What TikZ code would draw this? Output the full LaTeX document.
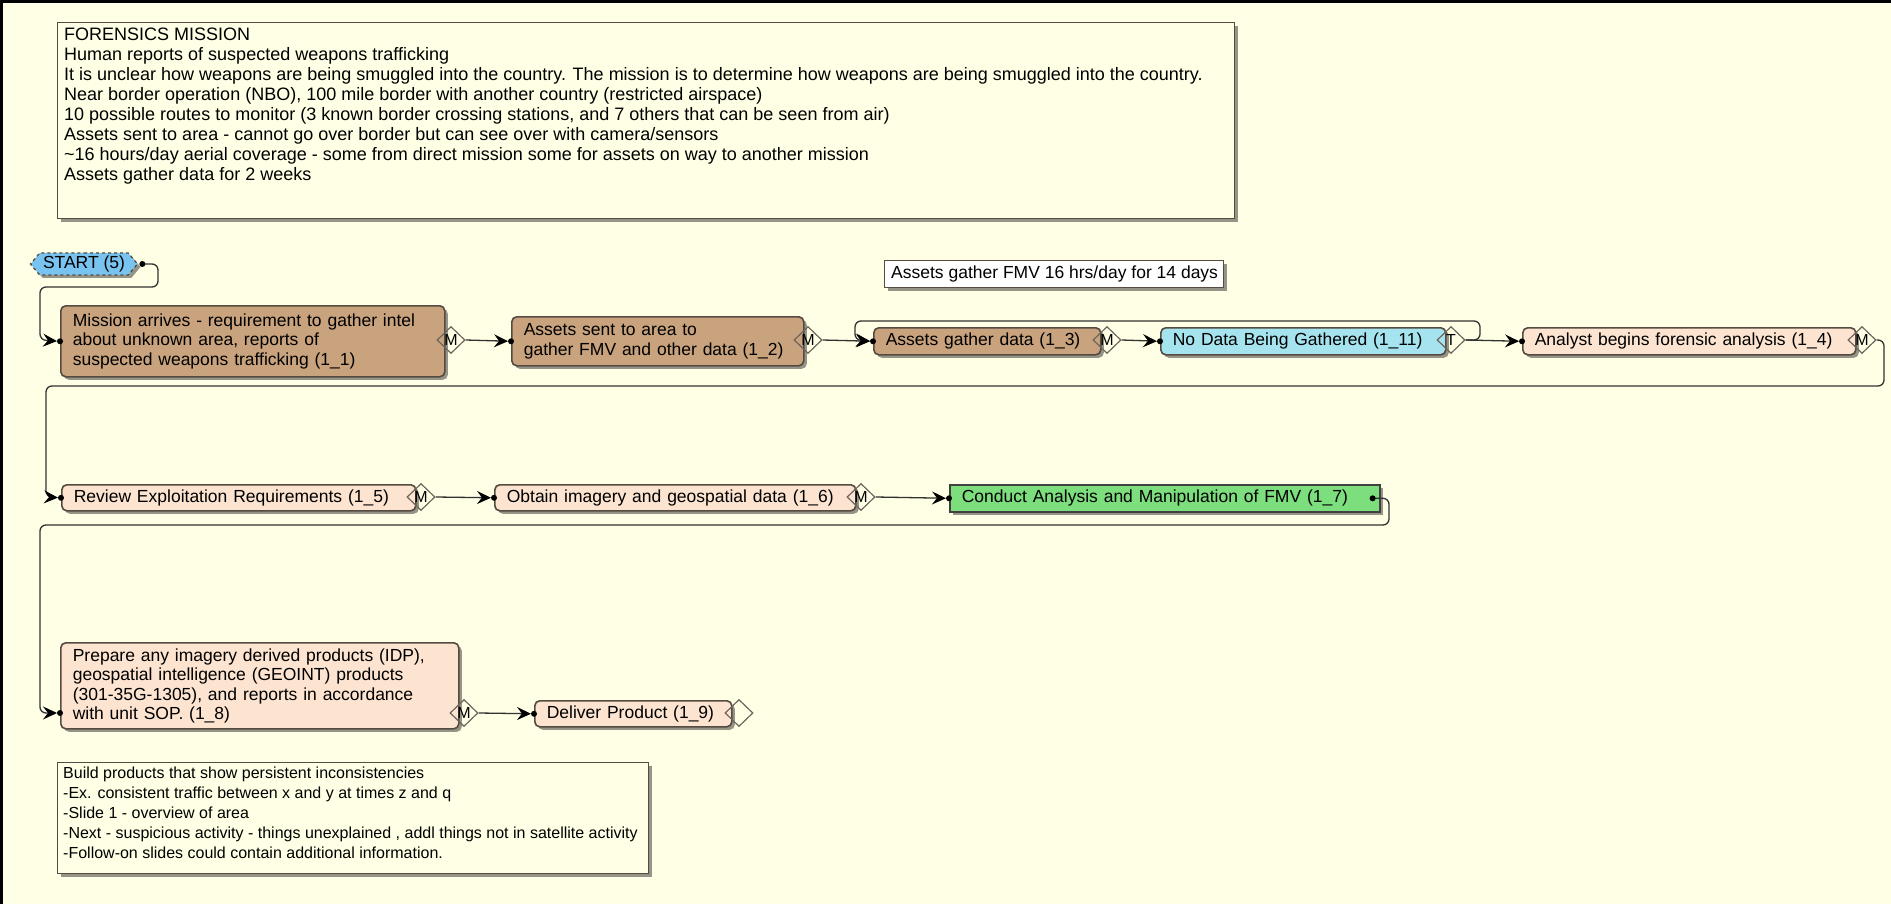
\documentclass[tikz,border=0pt]{standalone}
\usepackage{fontspec}
\setmainfont{Liberation Sans}
\usetikzlibrary{shapes.geometric,shapes.symbols,shadows,arrows.meta,calc}
\definecolor{bg}{RGB}{255,255,230}
\definecolor{tanbox}{RGB}{200,163,125}
\definecolor{peach}{RGB}{252,228,208}
\definecolor{cyanbox}{RGB}{165,228,238}
\definecolor{greenbox}{RGB}{125,222,125}
\definecolor{startblue}{RGB}{120,195,240}
\definecolor{edge}{RGB}{85,75,65}
\definecolor{shadowc}{RGB}{150,148,135}
\definecolor{linec}{RGB}{50,50,50}
\begin{document}
\begin{tikzpicture}[x=1pt,y=-1pt,
  nodefont/.style={font=\fontsize{17.5}{19.5}\selectfont},
  notefont/.style={font=\fontsize{16}{20}\selectfont},
  topnotefont/.style={font=\fontsize{18}{20}\selectfont},
  shad/.style={drop shadow={shadow xshift=3pt,shadow yshift=-3pt,fill=shadowc,opacity=1}},
  task/.style={draw=edge,line width=1.6pt,rounded corners=5pt,anchor=north west,
    inner xsep=12pt,inner ysep=0pt,align=left,nodefont,shad},
  tanT/.style={task,fill=tanbox},
  peachT/.style={task,fill=peach},
  cyanT/.style={task,fill=cyanbox},
  greenT/.style={task,fill=greenbox,rounded corners=0pt,draw=black!75},
  dia/.style={diamond,draw=edge!85,line width=1.2pt,minimum width=28pt,minimum height=27pt,
    inner sep=0pt,font=\fontsize{16}{16}\selectfont},
  notebox/.style={draw=edge,line width=1.4pt,anchor=north west,inner sep=0pt,shad},
  notetext/.style={anchor=north west,align=left,inner sep=0pt,notefont},
  conn/.style={draw=linec,line width=1.3pt,rounded corners=6pt},
  arr/.style={conn,-{Stealth[length=14pt,width=13pt,inset=5pt,color=black]},shorten >=3pt},
  enddot/.style={fill=black}
]
\useasboundingbox (0,0) rectangle (1891,904);
\fill[bg] (0,0) rectangle (1891,904);
\draw[line width=3pt] (1.5,904) -- (1.5,1.5) -- (1891,1.5);

% top note
\node[notebox,fill=bg,minimum width=1177pt,minimum height=196pt] (note1) at (57,22) {};
\node[notetext,topnotefont] (note1t) at ($(note1.north west)+(7,6)$) {FORENSICS MISSION\\
Human reports of suspected weapons trafficking\\
It is unclear how weapons are being smuggled into the country. The mission is to determine how weapons are being smuggled into the country.\\
Near border operation (NBO), 100 mile border with another country (restricted airspace)\\
10 possible routes to monitor (3 known border crossing stations, and 7 others that can be seen from air)\\
Assets sent to area - cannot go over border but can see over with camera/sensors\\
\textasciitilde16 hours/day aerial coverage - some from direct mission some for assets on way to another mission\\
Assets gather data for 2 weeks};

% FMV note
\node[notebox,fill=white,minimum width=339pt,minimum height=27pt] (note2) at (884,260) {};
\node[notetext,anchor=west,nodefont] (note2t) at ($(note2.west)+(7,0)$) {Assets gather FMV 16 hrs/day for 14 days};

% bottom note
\node[notebox,fill=bg,minimum width=591pt,minimum height=111pt] (note3) at (57,762) {};
\node[notetext] (note3t) at ($(note3.north west)+(6,5)$) {Build products that show persistent inconsistencies\\
-Ex. consistent traffic between x and y at times z and q\\
-Slide 1 - overview of area\\
-Next - suspicious activity - things unexplained , addl things not in satellite activity\\
-Follow-on slides could contain additional information.};

% start
\node[signal,signal to=west and east,signal pointer angle=100,draw=edge,dashed,line width=1.3pt,
  fill=startblue,minimum width=107pt,minimum height=22pt,inner sep=1pt,nodefont,shad] (start) at (84,264) {START (5)};

% row 1
\node[tanT,text width=360pt,minimum height=71pt] (n11) at (60,305) {Mission arrives - requirement to gather intel\\about unknown area, reports of\\suspected weapons trafficking (1\_1)};
\node[dia] (d11) at (451,340) {M};
\node[tanT,text width=268pt,minimum height=49pt] (n12) at (511,316) {Assets sent to area to\\gather FMV and other data (1\_2)};
\node[dia] (d12) at (808,340) {M};
\node[tanT,text width=203pt,minimum height=27pt] (n13) at (873,327) {Assets gather data (1\_3)};
\node[dia] (d13) at (1107,340) {M};
\node[cyanT,text width=261pt,minimum height=27pt] (n111) at (1160,327) {No Data Being Gathered (1\_11)};
\node[dia] (dT) at (1451,340) {T};
\node[peachT,text width=309pt,minimum height=27pt] (n14) at (1522,327) {Analyst begins forensic analysis (1\_4)};
\node[dia] (d14) at (1862,340) {M};

% row 2
\node[peachT,text width=330pt,minimum height=26pt] (n15) at (61,484) {Review Exploitation Requirements (1\_5)};
\node[dia] (d15) at (421,497) {M};
\node[peachT,text width=337pt,minimum height=26pt] (n16) at (494,484) {Obtain imagery and geospatial data (1\_6)};
\node[dia] (d16) at (861,497) {M};
\node[greenT,text width=406pt,minimum height=27pt] (n17) at (949,484) {Conduct Analysis and Manipulation of FMV (1\_7)};

% row 3
\node[peachT,text width=374pt,minimum height=86pt] (n18) at (60,642) {Prepare any imagery derived products (IDP),\\geospatial intelligence (GEOINT) products\\(301-35G-1305), and reports in accordance\\with unit SOP. (1\_8)};
\node[dia] (d18) at (464,713) {M};
\node[peachT,text width=173pt,minimum height=26pt] (n19) at (534,700) {Deliver Product (1\_9)};
\node[dia] (d19) at (739,713) {};

% connectors
\coordinate (sdot) at ($(start.east)+(4,0)$);
\coordinate (dot17) at ($(n17.east)+(-8,0)$);
\coordinate (in18) at (n18.west |- d18);
\draw[arr] (sdot) -| (158,287) -| (40,340) -- (n11.west);
\draw[arr] (d11.east) -- (n12.west);
\draw[arr] (d12.east) -- (n13.west);
\draw[arr] (dT.east) -| (1480,321) -| (855,340) -- (n13.west);
\draw[arr] (d13.east) -- (n111.west);
\draw[arr] (dT.east) -- (n14.west);
\draw[arr] (d14.east) -| (1884,386) -| (46,497) -- (n15.west);
\draw[arr] (d15.east) -- (n16.west);
\draw[arr] (d16.east) -- (n17.west);
\draw[arr] (dot17) -| (1389,525) -| (40,713) -- (in18);
\draw[arr] (d18.east) -- (n19.west);

\foreach \p in {sdot,dot17,n11.west,n12.west,n13.west,n111.west,n14.west,n15.west,n16.west,n17.west,in18,n19.west}
  \fill[enddot] (\p) circle (3pt);
\end{tikzpicture}
\end{document}
